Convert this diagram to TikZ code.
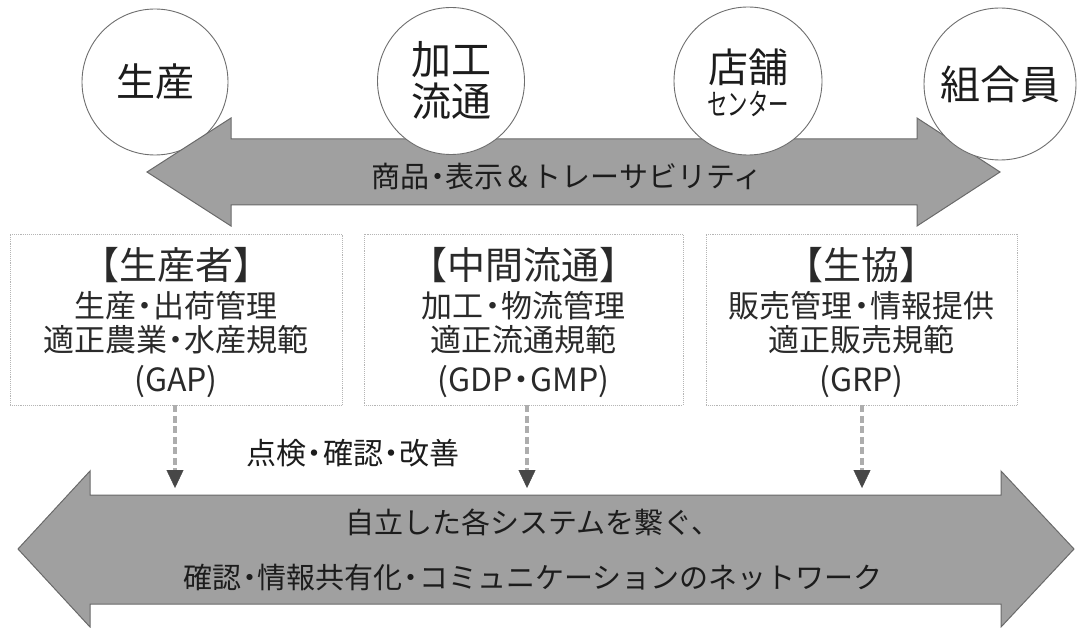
\documentclass[tikz,border=0pt]{standalone}
\usepackage{fontspec}
\setmainfont{Noto Sans CJK JP}
\usetikzlibrary{arrows.meta}
\definecolor{arrowfill}{HTML}{A0A0A0}
\definecolor{arrowline}{HTML}{6A6A6A}
\definecolor{circline}{HTML}{6E6E6E}
\definecolor{boxline}{HTML}{B5B5B5}
\definecolor{dashline}{HTML}{ADADAD}
\definecolor{tipcol}{HTML}{474747}
\definecolor{txt}{HTML}{1C1C1C}
\definecolor{txtb}{HTML}{2A2A2A}
\newcommand{\nd}{\kern-0.22em・\kern-0.22em}
\begin{document}
\begin{tikzpicture}[x=1pt,y=-1pt,
  bigarrow/.style={fill=arrowfill, draw=arrowline, line width=1pt, line join=miter},
  station/.style={circle, draw=circline, fill=white, line width=0.9pt, inner sep=0pt, align=center, text=txt},
  rolebox/.style={draw=boxline, densely dotted, line width=0.9pt, inner sep=0pt},
  boxtitle/.style={inner sep=0pt, text=txtb, font=\fontsize{38}{38}\selectfont},
  boxtext/.style={inner sep=0pt, text=txtb, font=\fontsize{31}{31}\selectfont},
  boxcode/.style={inner sep=0pt, text=txtb, font=\fontsize{32}{32}\selectfont},
  arrowtext/.style={inner sep=0pt, text=txt, align=center, font=\fontsize{29}{55}\selectfont},
  check/.style={draw=dashline, line width=3.2pt, dash pattern=on 7pt off 3.5pt,
    -{Triangle[length=18pt,width=17pt,color=tipcol,line width=0.4pt]}}
]
\useasboundingbox (0,0) rectangle (1083,628);

% circle behind the top arrow
\node[station, minimum size=146pt, font=\fontsize{39}{39}\selectfont] (prod) at (155,82) {生産};

% top double arrow
\filldraw[bigarrow] (147,172) -- (231,118) -- (231,139) -- (917,139) -- (917,118) -- (1000,172)
  -- (917,226) -- (917,205) -- (231,205) -- (231,226) -- cycle;
\node[arrowtext] (flow) at (567,176) {商品\nd 表示＆トレーサビリティ};

% circles in front of the top arrow
\node[station, minimum size=147pt, font=\fontsize{40}{42}\selectfont] (proc) at (451,81) {加工\\流通};
\node[station, minimum size=148pt] (shop) at (748,81) {};
\node[inner sep=0pt, text=txt, align=center] (shoptext) at (748,83)
  {{\fontsize{40}{40}\selectfont 店舗}\\[4pt]{\fontsize{30}{30}\selectfont\scalebox{0.68}[1]{センター}}};
\node[station, minimum size=152pt, font=\fontsize{40}{40}\selectfont] (member) at (1000,84) {組合員};

% role boxes
\node[rolebox, minimum width=332pt, minimum height=171pt] (box1) at (176,319.5) {};
\node[rolebox, minimum width=319pt, minimum height=171pt] (box2) at (523.5,319.5) {};
\node[rolebox, minimum width=311pt, minimum height=171pt] (box3) at (861.5,319.5) {};

\node[boxtitle] (t1) at (176,265) {【生産者】};
\node[boxtext] (a1) at (176,306) {生産\nd 出荷管理};
\node[boxtext] (b1) at (176,340) {適正農業\nd 水産規範};
\node[boxcode] (c1) at (176,382) {(GAP)};

\node[boxtitle] (t2) at (523.5,265) {【中間流通】};
\node[boxtext] (a2) at (523.5,306) {加工\nd 物流管理};
\node[boxtext] (b2) at (523.5,340) {適正流通規範};
\node[boxcode] (c2) at (523.5,382) {(GDP\nd GMP)};

\node[boxtitle] (t3) at (861.5,265) {【生協】};
\node[boxtext] (a3) at (861.5,306) {販売管理\nd 情報提供};
\node[boxtext] (b3) at (861.5,340) {適正販売規範};
\node[boxcode] (c3) at (861.5,382) {(GRP)};

% check label
\node[boxtext, text=txt, font=\fontsize{30}{30}\selectfont] (chk) at (353,453) {点検\nd 確認\nd 改善};

% bottom network arrow
\filldraw[bigarrow] (18,549) -- (90,471) -- (90,495) -- (1001,495) -- (1001,471) -- (1074,549)
  -- (1001,627) -- (1001,604) -- (90,604) -- (90,627) -- cycle;
\node[arrowtext] (net) at (533,550) {自立した各システムを繋ぐ、\\確認\nd 情報共有化\nd コミュニケーションのネットワーク};

% dashed connectors
\coordinate (n1) at (175,488);
\coordinate (n2) at (527,488);
\coordinate (n3) at (862,488);
\draw[check] (box1.south -| n1) -- (n1);
\draw[check] (box2.south -| n2) -- (n2);
\draw[check] (box3.south -| n3) -- (n3);
\end{tikzpicture}
\end{document}
